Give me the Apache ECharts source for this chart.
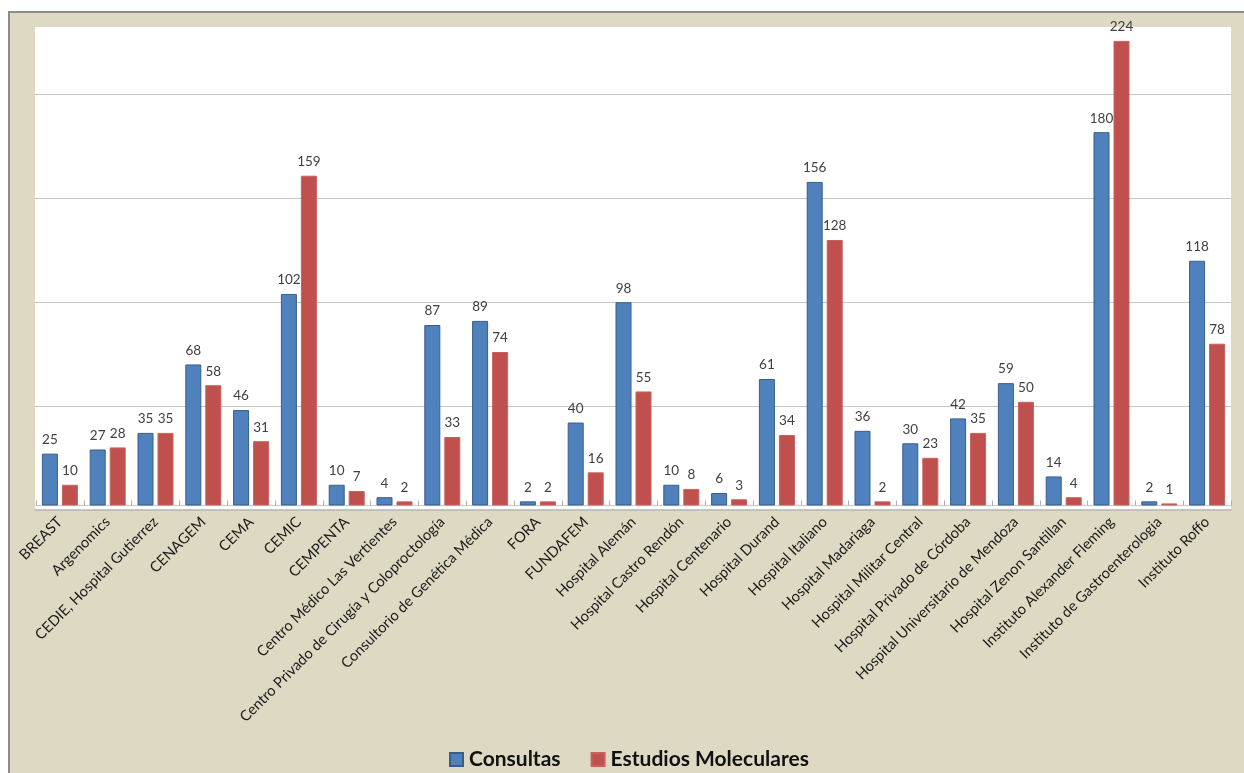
<!DOCTYPE html>
<html>
<head>
<meta charset="utf-8">
<script src="https://cdn.jsdelivr.net/npm/echarts@6/dist/echarts.min.js"></script>
<style>
  html, body { margin: 0; padding: 0; background: #ffffff; }
  #panel { position: absolute; left: 8px; top: 11px; width: 1236px; height: 762px;
           background: #ddd9c3; border-top: 2px solid #8c8c8c; border-left: 2px solid #8c8c8c; box-sizing: border-box; }
  #chart { position: absolute; left: 0; top: 0; width: 1244px; height: 773px; }
</style>
</head>
<body>
<div id="panel"></div>
<div id="chart"></div>
<script>
const categories = [
  "BREAST", "Argenomics", "CEDIE, Hospital Gutierrez", "CENAGEM", "CEMA", "CEMIC",
  "CEMPENTA", "Centro Médico Las Vertientes", "Centro Privado de Cirugía y Coloproctología",
  "Consultorio de Genética Médica", "FORA", "FUNDAFEM", "Hospital Alemán",
  "Hospital Castro Rendón", "Hospital Centenario", "Hospital Durand", "Hospital Italiano",
  "Hospital Madariaga", "Hospital Militar Central", "Hospital Privado de Córdoba",
  "Hospital Universitario de Mendoza", "Hospital Zenon Santillan",
  "Instituto Alexander Fleming", "Instituto de Gastroenterologia", "Instituto Roffo"
];
const consultas = [25, 27, 35, 68, 46, 102, 10, 4, 87, 89, 2, 40, 98, 10, 6, 61, 156, 36, 30, 42, 59, 14, 180, 2, 118];
const estudiosMoleculares = [10, 28, 35, 58, 31, 159, 7, 2, 33, 74, 2, 16, 55, 8, 3, 34, 128, 2, 23, 35, 50, 4, 224, 1, 78];
const seriesNames = ["Consultas", "Estudios Moleculares"];

const chart = echarts.init(document.getElementById('chart'), null, { renderer: 'canvas' });
const labelStyle = {
  show: true, position: 'top', distance: 7,
  fontFamily: 'Lato', fontSize: 13.5, color: '#404040'
};
chart.setOption({
  animation: false,
  backgroundColor: 'transparent',
  grid: [
    { left: 36, right: 13, top: 27, bottom: 267.5, show: false, containLabel: false },
    { left: 35, right: 13, top: 27, bottom: 263, show: true, backgroundColor: '#ffffff', borderWidth: 0, z: -1 }
  ],
  xAxis: [
    {
      type: 'category', gridIndex: 0, data: categories,
      axisLine: { show: true, lineStyle: { color: '#c8c8c8', width: 1 } },
      axisTick: { show: true, inside: true, length: 5, lineStyle: { color: '#b0b0b0' } },
      axisLabel: { interval: 0, rotate: 45, margin: 14, fontFamily: 'Lato', fontSize: 14.7, color: '#1a1a1a' },
      splitLine: { show: false }
    },
    {
      type: 'value', gridIndex: 1, min: 0, max: 1,
      axisLine: { show: true, onZero: false, lineStyle: { color: '#b4b4b4', width: 1.5 } },
      axisTick: { show: false }, axisLabel: { show: false }, splitLine: { show: false }
    }
  ],
  yAxis: [
    { type: 'value', gridIndex: 0, min: 0, max: 230.7, show: false, splitLine: { show: false } },
    {
      type: 'value', gridIndex: 1, min: 0, max: 232.2, interval: 50,
      axisLine: { show: false }, axisTick: { show: false }, axisLabel: { show: false },
      splitLine: { show: true, showMinLine: false, showMaxLine: false, lineStyle: { color: '#c4c4c4', width: 1 } }
    }
  ],
  legend: {
    left: 444, top: 744,
    itemWidth: 13, itemHeight: 13, itemGap: 30,
    icon: 'rect',
    textStyle: { fontFamily: 'Lato', fontWeight: 'bold', fontSize: 21, color: '#111111', padding: [0, 0, 0, 1] },
    data: seriesNames
  },
  series: [
    {
      name: seriesNames[0], type: 'bar', xAxisIndex: 0, yAxisIndex: 0,
      data: consultas, barWidth: 16, barGap: '25%',
      itemStyle: { color: '#4f81bd', borderColor: '#385d8a', borderWidth: 1 },
      label: labelStyle
    },
    {
      name: seriesNames[1], type: 'bar', xAxisIndex: 0, yAxisIndex: 0,
      data: estudiosMoleculares, barWidth: 16, barGap: '25%',
      itemStyle: { color: '#c0504d', borderColor: '#c9605d', borderWidth: 1 },
      label: labelStyle
    }
  ]
});
</script>
</body>
</html>
